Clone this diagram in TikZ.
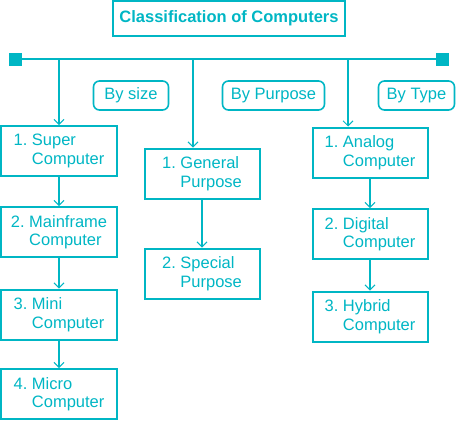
\documentclass[tikz,border=0pt]{standalone}
\usepackage{fontspec}
\setmainfont{Liberation Sans}
\usetikzlibrary{arrows.meta}
\definecolor{tbcyan}{RGB}{0,182,196}
\tikzset{
  txt/.style={text=tbcyan, font=\fontsize{16.5bp}{18.5bp}\selectfont},
  box/.style={txt, draw=tbcyan, line width=2bp, minimum width=115bp, minimum height=50bp, inner sep=0pt, align=left},
  tag/.style={txt, draw=tbcyan, line width=1.6bp, rounded corners=6bp, minimum height=29bp, inner sep=0pt},
  sq/.style={fill=tbcyan, minimum size=13bp, inner sep=0pt},
  bus/.style={draw=tbcyan, line width=2bp},
  arr/.style={bus, -{Straight Barb[length=5bp,width=10bp,line width=1bp]}},
}
\begin{document}
\begin{tikzpicture}[x=1bp, y=-1bp]
\useasboundingbox (0,0) rectangle (457,421);

\node [txt, draw=tbcyan, line width=2bp, minimum width=232bp, minimum height=35bp, font=\fontsize{16.5bp}{18.5bp}\selectfont\bfseries] (title) at (229,18.5) {Classification of Computers};

\node [sq] (bl) at (15.5,59) {};
\node [sq] (br) at (442.5,59) {};
\draw [bus] (bl) -- (br);
\coordinate (c1) at (59,59);
\coordinate (c2) at (193,59);
\coordinate (c3) at (348,59);

\node [tag, minimum width=75bp] (size) at (131,95.5) {By size};
\node [tag, minimum width=102bp] (purpose) at (273.5,95.5) {By Purpose};
\node [tag, minimum width=76bp] (type) at (416.5,95.5) {By Type};

% by size
\node [box] (s1) at (59,151) {1.~Super\\\phantom{1.~}Computer};
\node [box] (s2) at (59,232) {2.~Mainframe\\\phantom{2.~}Computer};
\node [box] (s3) at (59,314.5) {3.~Mini\\\phantom{3.~}Computer};
\node [box] (s4) at (59,394) {4.~Micro\\\phantom{4.~}Computer};

% by purpose
\node [box] (p1) at (202,173.5) {1.~General\\\phantom{1.~}Purpose};
\node [box] (p2) at (202,273.5) {2.~Special\\\phantom{2.~}Purpose};

% by type
\node [box] (t1) at (370,152.5) {1.~Analog\\\phantom{1.~}Computer};
\node [box] (t2) at (370,234) {2.~Digital\\\phantom{2.~}Computer};
\node [box] (t3) at (370,316.5) {3.~Hybrid\\\phantom{3.~}Computer};

\draw [arr] (c1) -- (c1 |- s1.north);
\draw [arr] (c2) -- (c2 |- p1.north);
\draw [arr] (c3) -- (c3 |- t1.north);

\draw [arr] (s1) -- (s2);
\draw [arr] (s2) -- (s3);
\draw [arr] (s3) -- (s4);
\draw [arr] (p1) -- (p2);
\draw [arr] (t1) -- (t2);
\draw [arr] (t2) -- (t3);
\end{tikzpicture}
\end{document}
